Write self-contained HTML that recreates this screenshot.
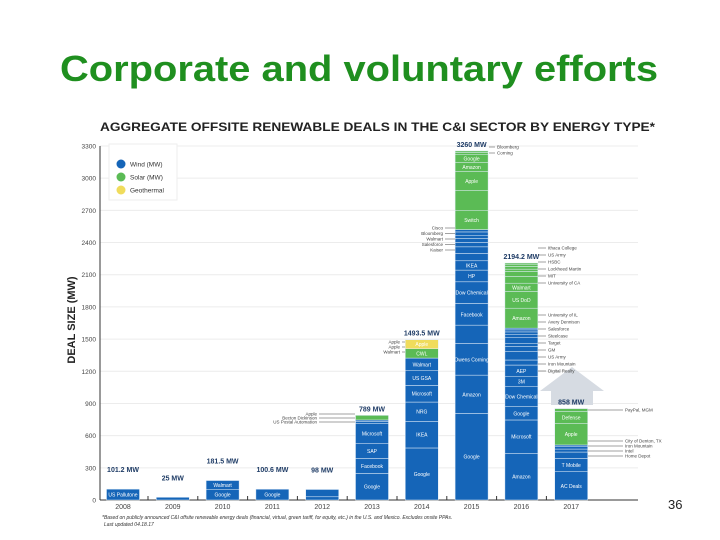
<!DOCTYPE html>
<html><head><meta charset="utf-8"><style>
body{margin:0;background:#fff;}
svg{display:block;font-family:"Liberation Sans",sans-serif;}
</style></head><body>
<svg id="c" width="720" height="540" viewBox="0 0 720 540">
<text x="359" y="81" text-anchor="middle" font-size="36" font-weight="bold" textLength="598" lengthAdjust="spacingAndGlyphs" fill="#1f8f1f">Corporate and voluntary efforts</text>
<text x="100" y="131" font-size="12" font-weight="bold" textLength="555" lengthAdjust="spacingAndGlyphs" fill="#222">AGGREGATE OFFSITE RENEWABLE DEALS IN THE C&amp;I SECTOR BY ENERGY TYPE*</text>
<text transform="translate(75,320) rotate(-90)" text-anchor="middle" font-size="11" font-weight="bold" fill="#222">DEAL SIZE (MW)</text>
<g id="grid"></g>
<polygon points="551,405 551,391 540,391 572,367 604,391 593,391 593,405" fill="#d6dbe2"/>
<g id="bars"></g><g id="labels"></g><g id="annot" font-size="4.5" fill="#444"></g>
<g>
<rect x="109" y="144" width="68" height="56" fill="#fff" stroke="#eee"/>
<circle cx="121" cy="164" r="4.5" fill="#1565b8"/><text x="130" y="166.5" font-size="6.5" fill="#333">Wind (MW)</text>
<circle cx="121" cy="177" r="4.5" fill="#5bbb55"/><text x="130" y="179.5" font-size="6.5" fill="#333">Solar (MW)</text>
<circle cx="121" cy="190" r="4.5" fill="#f0dc5c"/><text x="130" y="192.5" font-size="6.5" fill="#333">Geothermal</text>
</g>
<text x="102" y="519" font-size="5" font-style="italic" fill="#333">*Based on publicly announced C&amp;I offsite renewable energy deals (financial, virtual, green tariff, for equity, etc.) in the U.S. and Mexico. Excludes onsite PPAs.</text>
<text x="104" y="526" font-size="5" font-style="italic" fill="#333">Last updated 04.18.17</text>
<text x="668" y="509" font-size="13" fill="#222">36</text>
</svg>
<script>
const years=["2008","2009","2010","2011","2012","2013","2014","2015","2016","2017"];
const totalLabels=["101.2 MW","25 MW","181.5 MW","100.6 MW","98 MW","789 MW","1493.5 MW","3260 MW","2194.2 MW","858 MW"];
const yTicks=[0,300,600,900,1200,1500,1800,2100,2400,2700,3000,3300];
const seg2008=[["US Pallutone",101.2,"w"]];
const seg2009=[["Harvard",25,"w"]];
const seg2010=[["Google",100,"w"],["Walmart",81.5,"w"]];
const seg2011=[["Google",100.6,"w"]];
const seg2012=[["Ohio State",30,"w"],["Google",68,"w"]];
const seg2013=[["Google",248,"w"],["Facebook",140,"w"],["SAP",137,"w"],["Microsoft",190,"w"],["US Postal",16,"w"],["Becton",15,"w"],["Apple",43,"s"]];
const seg2014=[["Google",485,"w"],["IKEA",248,"w"],["NRG",180,"w"],["Microsoft",155,"w"],["US GSA",137,"w"],["Walmart",118,"w"],["CWL",87,"s"],["Apple",84,"g"]];
const seg2015=[["Google",807,"w"],["Amazon",357,"w"],["Owens Corning",295,"w"],["",171,"w"],["Facebook",202,"w"],["Dow Chemical",202,"w"],["HP",109,"w"],["IKEA",87,"w"],["Philips",68,"w"],["GM",62,"w"],["",40,"w"],["",37,"w"],["",31,"w"],["",31,"w"],["",22,"w"],["Switch",180,"s"],["",186,"s"],["Apple",177,"s"],["Amazon",81,"s"],["Google",78,"s"],["",16,"s"],["",15,"s"]];
const seg2016=[["Amazon",435,"w"],["Microsoft",311,"w"],["Google",124,"w"],["Dow Chemical",186,"w"],["3M",93,"w"],["AEP",109,"w"],["",47,"w"],["",78,"w"],["",47,"w"],["",31,"w"],["",56,"w"],["",28,"w"],["",22,"w"],["",19,"w"],["",16,"w"],["Amazon",186,"s"],["US DoD",155,"s"],["Walmart",78,"s"],["",62,"s"],["",47,"s"],["",22,"s"],["",25,"s"],["",16,"s"],["",16,"s"]];
const seg2017=[["AC Deals",264,"w"],["T Mobile",124,"w"],["",59,"w"],["",28,"w"],["",22,"w"],["",16,"w"],["Apple",202,"s"],["Defense",109,"s"],["",28,"s"]];
const segs=[seg2008,seg2009,seg2010,seg2011,seg2012,seg2013,seg2014,seg2015,seg2016,seg2017];
const annLeft2013=["Apple","Becton Dickinson","US Postal Automation"];
const annLeft2014=["Apple","Apple","Walmart"];
const annLeft2015=["Cisco","Bloomberg","Walmart","Salesforce","Kaiser"];
const annRight2015=["Bloomberg","Corning"];
const annRight2016a=["Ithaca College","US Army","HSBC","Lockheed Martin","MIT","University of CA"];
const annRight2016b=["University of IL","Avery Dennison","Salesforce","Steelcase","Target","GM","US Army","Iron Mountain","Digital Realty"];
const annRight2017a=["PayPal, MGM"];
const annRight2017b=["City of Denton, TX","Iron Mountain","Intel","Home Depot"];
const NS="http://www.w3.org/2000/svg";
const y0=500,yMax=3300,yTop=146;
function yS(v){return y0-(v/yMax)*(y0-yTop);}
function xS(i){return 123+i*49.8;}
const col={w:"#1565b8",s:"#5bbb55",g:"#f0dc5c"};
function mk(t,a,p){const e=document.createElementNS(NS,t);for(const k in a)e.setAttribute(k,a[k]);p.appendChild(e);return e;}
const grid=document.getElementById('grid');
yTicks.forEach(v=>{
 const l=mk('line',{x1:100,x2:638,y1:yS(v),y2:yS(v),stroke:v?"#ececec":"#333","stroke-width":1},grid);
 
 
 const t=mk('text',{x:96,y:yS(v)+2.5,"text-anchor":"end","font-size":6.5,fill:"#444"},grid);
 t.textContent=v;
 
 
});
const ax=mk('line',{x1:100,x2:100,y1:yTop,y2:y0,stroke:"#333"},grid);


const bars=document.getElementById('bars'),lab=document.getElementById('labels'),ann=document.getElementById('annot');
years.forEach((yr,i)=>{
 const cx=xS(i),w=33;let cum=0;
 segs[i].forEach(s=>{
  const yt=yS(cum+s[1]),yb=yS(cum);
  const r=mk('rect',{x:cx-w/2,y:yt,width:w,height:yb-yt,fill:col[s[2]],stroke:"#e3eef9","stroke-width":0.5},bars);
  
  
  if(s[0]&&yb-yt>8){const t=mk('text',{x:cx,y:(yt+yb)/2+2,"text-anchor":"middle","font-size":5,fill:"#fff"},bars);t.textContent=s[0];
   
   }
  cum+=s[1];
 });
 const tl=mk('text',{x:cx,y:yS(cum)-(i<5?17:4),"text-anchor":"middle","font-size":7,"font-weight":"bold",fill:"#1f3c66"},lab);
 tl.textContent=totalLabels[i];
 
 
 const xl=mk('text',{x:cx,y:509,"text-anchor":"middle","font-size":7,fill:"#444"},lab);
 xl.textContent=yr;
 
 
 if(i<9){const tk=mk('line',{x1:cx+25,x2:cx+25,y1:496,y2:500,stroke:"#333"},lab);
  
  }
});
function annList(arr,x,y,dy,anchor,lx1,lx2){
 arr.forEach((n,k)=>{
  const yy=y+k*dy;
  const t=mk('text',{x:x,y:yy+1.5,"text-anchor":anchor},ann);
  t.textContent=n;
  
  
  const l=mk('line',{x1:lx1,x2:lx2,y1:yy,y2:yy,stroke:"#444","stroke-width":0.5},ann);
  
  
 });
}
annList(annLeft2013,317,414,4,"end",319,355);
annList(annLeft2014,400,342,5,"end",402,405);
annList(annLeft2015,443,228,5.5,"end",445,455);
annList(annRight2015,497,147,6,"start",489,495);
annList(annRight2016a,548,248,7,"start",538,546);
annList(annRight2016b,548,315,7,"start",538,546);
annList(annRight2017a,625,410,7,"start",588,623);
annList(annRight2017b,625,441,5,"start",588,623);
</script>
</body></html>
